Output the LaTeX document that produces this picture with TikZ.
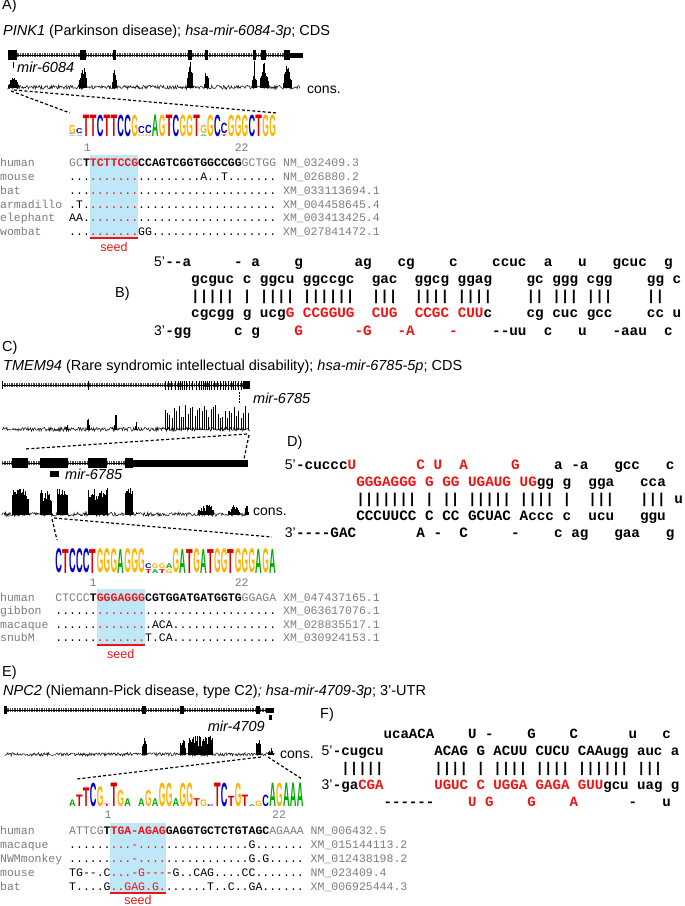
\documentclass[tikz,border=0pt]{standalone}
\usepackage{fontspec}
\setmainfont{Liberation Sans}
\setsansfont{Liberation Sans}
\setmonofont{Liberation Mono}
\usepackage{graphicx}
\definecolor{seedblue}{RGB}{190,231,248}
\definecolor{hred}{RGB}{240,20,20}
\definecolor{agray}{RGB}{125,125,125}
\definecolor{lA}{RGB}{0,170,0}
\definecolor{lC}{RGB}{0,0,215}
\definecolor{lG}{RGB}{255,178,0}
\definecolor{lT}{RGB}{220,0,0}
\newcommand\xgr[1]{\textcolor{agray}{#1}}
\newcommand\xbf[1]{\textbf{#1}}
\newcommand\xrb[1]{\textcolor{hred}{\textbf{#1}}}
\newcommand\xrn[1]{\textcolor{hred}{#1}}
\newcommand\xr[1]{\textcolor{hred}{#1}}
\tikzset{
  lab/.style={font=\fontsize{14.5}{17}\selectfont, inner sep=0, anchor=west},
  mirlab/.style={font=\fontsize{14.5}{17}\selectfont\itshape, inner sep=0},
  dup/.style={font=\fontsize{14.33}{16}\selectfont\ttfamily\bfseries, inner sep=0, anchor=base west},
  dupF/.style={font=\fontsize{14.08}{16}\selectfont\ttfamily\bfseries, inner sep=0, anchor=base west},
  primelab/.style={font=\fontsize{14}{16}\selectfont, inner sep=0, anchor=base east},
  aln/.style={font=\fontsize{11.5}{13}\selectfont\ttfamily, inner sep=0, anchor=base west},
  poslab/.style={font=\fontsize{11.5}{13}\selectfont\ttfamily, text=agray, inner sep=0},
  seedlab/.style={font=\fontsize{12.5}{14}\selectfont, text=hred, inner sep=0},
  hatchln/.style={draw=black!70, line width=3.6pt, dash pattern=on 0.5pt off 1.2pt},
  intron/.style={draw=black, line width=0.6pt},
  zoomconn/.style={draw=black, line width=1.2pt, dash pattern=on 3pt off 2.2pt},
  constrace/.style={draw=black!90, line width=0.55pt},
  spikeln/.style={draw=black, line width=0.5pt},
  seedline/.style={draw=hred, line width=1.1pt},
}
\newcommand\cnoise[4]{%
  \pgfmathsetmacro\xnext{#1+0.7}%
  \draw[constrace] (#1,#3) \foreach \xx in {#1,\xnext,...,#2} { -- (\xx,{#3+#4*(0.3-rnd)}) };%
}
\newcommand\cspikes[5]{%
  \pgfmathsetmacro\xnext{#1+#5}%
  \foreach \xx in {#1,\xnext,...,#2} {%
    \pgfmathsetmacro\hh{#4*(0.3+0.7*rnd)*(1-0.55*abs(2*(\xx-#1)/(#2-#1+0.01)-1))}%
    \draw[spikeln] (\xx,#3) -- (\xx,#3-\hh);%
  }%
}
\newcommand\cblocks[5]{%
  \pgfmathsetmacro\xnext{#1+#5}%
  \foreach \xx in {#1,\xnext,...,#2} {%
    \pgfmathsetmacro\hh{#4*(0.45+0.55*rnd)}%
    \draw[spikeln] (\xx,#3) -- (\xx,#3-\hh);%
  }%
}
\newcommand\seqlogo[5]{%
  \foreach \c/\l/\k/\h/\o [count=\i] in {#5} {%
    \pgfmathsetmacro\hh{max(\h*#4-0.6,0.4)}%
    \node[inner sep=0, anchor=south, text=\k] (#1\i) at ({#2+6.9*(\c+0.5)},{#3-\o*#4}) {\resizebox{6.6pt}{\hh pt}{\sffamily\bfseries\l}};%
  }%
}
\begin{document}
\begin{tikzpicture}[x=1pt,y=-1pt]
\useasboundingbox (0,0) rectangle (685,906);
\fill[white] (0,0) rectangle (685,906);
\pgfmathsetseed{4711}

%%%%%%%%%%%%%%%% Panel A
\node[lab] (pA) at (2,6) {A)};
\node[lab] (tA) at (3,32) {\textit{PINK1} (Parkinson disease); \textit{hsa-mir-6084-3p}; CDS};
\draw[hatchln] (8,55) -- (290,55);
\draw[intron] (8,55) -- (290,55);
\foreach \a/\b in {8/17,80/86,113/116,188/192,205/208,253/256,261/266,284/290}
  \fill (\a,50) rectangle (\b,60);
\fill (290,52.5) rectangle (303,57.5);
\fill (12.5,62) rectangle (14,67.5);
\node[mirlab, anchor=west] (mA) at (17,67) {mir-6084};
\cnoise{8}{300}{88}{4}
\cspikes{8}{18}{88}{13}{0.6}
\cspikes{79.5}{86.5}{88}{28}{0.5}
\cspikes{112.5}{116.5}{88}{22}{0.5}
\cspikes{187.5}{192.5}{88}{28}{0.5}
\cspikes{204.5}{208.5}{88}{26}{0.5}
\cspikes{252.5}{256.5}{88}{28}{0.5}
\cspikes{260}{268}{88}{28}{0.5}
\cspikes{283}{291}{88}{25}{0.5}
\node[lab, font=\fontsize{14}{16}\selectfont] (cA) at (307,90) {cons.};
\coordinate (zA1) at (11,91); \coordinate (zA2) at (14,90);
\coordinate (lgA1) at (70,113); \coordinate (lgA2) at (277,113);
\draw[zoomconn] (zA1) -- (lgA1);
\draw[zoomconn] (zA2) -- (lgA2);
\seqlogo{LA}{69}{137}{22}{0/A/lA/0.06/0, 0/C/lC/0.06/0.08, 0/G/lG/0.4/0.16,
 1/A/lA/0.06/0, 1/G/lG/0.06/0.08, 1/C/lC/0.25/0.16,
 2/T/lT/1/0, 3/T/lT/1/0, 4/C/lC/1/0, 5/T/lT/1/0, 6/T/lT/1/0, 7/C/lC/1/0, 8/C/lC/1/0, 9/G/lG/1/0,
 10/G/lG/0.1/0, 10/C/lC/0.35/0.14, 11/G/lG/0.1/0, 11/C/lC/0.4/0.14,
 12/A/lA/1/0, 13/G/lG/1/0, 14/T/lT/1/0, 15/C/lC/1/0, 16/G/lG/1/0, 17/G/lG/1/0, 18/T/lT/1/0,
 19/A/lA/0.1/0, 19/G/lG/0.4/0.14, 20/G/lG/1/0, 21/C/lC/1/0,
 22/T/lT/0.1/0, 22/C/lC/0.5/0.15,
 23/G/lG/1/0, 24/G/lG/1/0, 25/G/lG/1/0, 26/C/lC/1/0, 27/T/lT/1/0, 28/G/lG/1/0, 29/G/lG/1/0}
\node[poslab] (A1n) at (87.2,148) {1};
\node[poslab] (A22n) at (241.7,148) {22};
\fill[seedblue] (89.7,155) rectangle (138,237);
\draw[seedline] (89.7,238) -- (138,238);
\node[seedlab] (sA) at (114,247) {seed};
\node[aln] (Ah) at (0,166) {\xgr{human~~~~~GC}\xbf{T}\xrb{TCTTCCG}\xbf{CCAGTCGGTGGCCGG}\xgr{GCTGG~NM\_032409.3}};
\node[aln] (Am) at (0,180) {\xgr{mouse~~~~~}...\xrn{.......}.........A..T.......\xgr{~NM\_026880.2}};
\node[aln] (Ab) at (0,194) {\xgr{bat~~~~~~~}...\xrn{.......}....................\xgr{~XM\_033113694.1}};
\node[aln] (Aa) at (0,208) {\xgr{armadillo~}.T.\xrn{.......}....................\xgr{~XM\_004458645.4}};
\node[aln] (Ae) at (0,221) {\xgr{elephant~~}AA.\xrn{.......}....................\xgr{~XM\_003413425.4}};
\node[aln] (Aw) at (0,235) {\xgr{wombat~~~~}...\xrn{.......}GG..................\xgr{~XM\_027841472.1}};

%%%%%%%%%%%%%%%% Panel B
\node[lab] (pB) at (115,294) {B)};
\node[primelab] (Bp5) at (165.2,266.5) {5'};
\node[dup] (B1) at (165.2,266.5) {--a~~~~~-~a~~~~g~~~~~~ag~~~cg~~~~c~~~~ccuc~~a~~~u~~~gcuc~~g};
\node[dup] (B2) at (191,283.5) {gcguc~c~ggcu~ggccgc~~gac~~ggcg~ggag~~~~gc~ggg~cgg~~~~gg~c};
\node[dup] (B3) at (191,300.5) {|||||~|~||||~||||||~~|||~~||||~||||~~~~||~|||~|||~~~~||};
\node[dup] (B4) at (191,317.5) {cgcgg~g~ucg\xr{G}~\xr{CCGGUG}~~\xr{CUG}~~\xr{CCGC}~\xr{CUU}c~~~~cg~cuc~gcc~~~~cc~u};
\node[primelab] (Bp3) at (165.2,335.5) {3'};
\node[dup] (B5) at (165.2,335.5) {-gg~~~~~c~g~~~~\xr{G}~~~~~~\xr{-G}~~~\xr{-A}~~~~\xr{-}~~~~--uu~~c~~~u~~~-aau~~c};

%%%%%%%%%%%%%%%% Panel C
\node[lab] (pC) at (2,348) {C)};
\node[lab] (tC) at (3,367) {\textit{TMEM94} (Rare syndromic intellectual disability); \textit{hsa-mir-6785-5p}; CDS};
\draw[hatchln] (2,385) -- (244,385);
\draw[intron] (2,385) -- (244,385);
\fill (1.5,381) rectangle (2.8,389);
\foreach \t in {88,165,168,171,175,178,180,182,184,186,189,192,196,199,201,203,205,207,209,211,214,217,220,223,225,228,231,233,235,238,241}
  \fill (\t-0.4,380.5) rectangle (\t+0.4,389.5);
\fill (243,381) rectangle (250,389);
\draw[dash pattern=on 1.5pt off 1.5pt, line width=0.6pt] (239.3,392) -- (239.3,403);
\node[mirlab, anchor=west] (mC1) at (253,398) {mir-6785};
\cnoise{2}{250}{430}{4}
\cspikes{66}{68}{430}{7}{0.5}
\cspikes{87}{89.5}{430}{15}{0.5}
\cspikes{114}{116.5}{430}{22}{0.5}
\cspikes{135}{137}{430}{9}{0.5}
\cblocks{165}{248}{430}{25}{2.3}
\coordinate (zC1) at (247,434); \coordinate (gC1) at (25,449);
\coordinate (zC2) at (249,435); \coordinate (gC2) at (244,459);
\draw[zoomconn] (zC1) -- (gC1);
\draw[zoomconn] (zC2) -- (gC2);
\draw[hatchln] (2,463) -- (128,463);
\draw[intron] (2,463) -- (128,463);
\foreach \a/\b in {12/28,40/68,88/107,125/133}
  \fill (\a,458) rectangle (\b,468);
\fill (132,459.5) rectangle (248,466.5);
\fill (50,471) rectangle (59,477);
\node[mirlab, anchor=west] (mC2) at (65,474) {mir-6785};
\cnoise{2}{248}{515}{4}
\cblocks{12}{28}{515}{27}{0.5}
\cblocks{40}{51}{515}{25}{0.5}
\cblocks{57}{67}{515}{27}{0.5}
\cblocks{88}{107}{515}{27}{0.5}
\cblocks{125}{132}{515}{27}{0.5}
\cspikes{198}{214}{515}{14}{0.8}
\cspikes{228}{240}{515}{10}{0.8}
\cspikes{245}{248}{515}{12}{0.5}
\node[lab, font=\fontsize{14}{16}\selectfont] (cC) at (253,512) {cons.};
\coordinate (zC3) at (52,519); \coordinate (lgC1) at (57,540);
\coordinate (zC4) at (54,518); \coordinate (lgC2) at (272,537);
\draw[zoomconn] (zC3) -- (lgC1);
\draw[zoomconn] (zC4) -- (lgC2);
\seqlogo{LC}{55.2}{573.5}{24.5}{0/C/lC/1/0, 1/T/lT/1/0, 2/C/lC/1/0, 3/C/lC/1/0, 4/C/lC/1/0, 5/T/lT/1/0,
 6/G/lG/1/0, 7/G/lG/1/0, 8/G/lG/1/0, 9/A/lA/1/0, 10/G/lG/1/0, 11/G/lG/1/0, 12/G/lG/1/0,
 13/T/lT/0.18/0, 13/C/lC/0.22/0.2, 14/A/lA/0.18/0, 14/G/lG/0.22/0.2,
 15/T/lT/0.18/0, 15/G/lG/0.22/0.2, 16/G/lG/0.18/0, 16/A/lA/0.22/0.2,
 17/G/lG/1/0, 18/A/lA/1/0, 19/T/lT/1/0, 20/G/lG/1/0, 21/A/lA/1/0, 22/T/lT/1/0, 23/G/lG/1/0,
 24/G/lG/1/0, 25/T/lT/1/0, 26/G/lG/1/0, 27/G/lG/1/0, 28/G/lG/1/0, 29/A/lA/1/0, 30/G/lG/1/0, 31/A/lA/1/0}
\node[poslab] (C1n) at (93,583) {1};
\node[poslab] (C22n) at (241.7,583) {22};
\fill[seedblue] (96.6,589) rectangle (144.9,644);
\draw[seedline] (96.6,645) -- (144.9,645);
\node[seedlab] (sC) at (120.7,654) {seed};
\node[aln] (Ch) at (0,601) {\xgr{human~~~CTCCC}\xbf{T}\xrb{GGGAGGG}\xbf{CGTGGATGATGGTG}\xgr{GGAGA~XM\_047437165.1}};
\node[aln] (Cg) at (0,614.5) {\xgr{gibbon~~}......\xrn{.......}...................\xgr{~XM\_063617076.1}};
\node[aln] (Cm) at (0,628) {\xgr{macaque~}......\xrn{.......}.ACA...............\xgr{~XM\_028835517.1}};
\node[aln] (Cs) at (0,641.5) {\xgr{snubM~~~}......\xrn{.......}T.CA...............\xgr{~XM\_030924153.1}};

%%%%%%%%%%%%%%%% Panel D
\node[lab] (pD) at (287,443) {D)};
\node[primelab] (Dp5) at (295.9,469.5) {5'};
\node[dup] (D1) at (295.9,469.5) {-cuccc\xr{U}~~~~~~~\xr{C}~\xr{U}~~\xr{A}~~~~~\xr{G}~~~~a~-a~~~gcc~~~c};
\node[dup] (D2) at (356.1,486.5) {\xr{GGGAGGG}~\xr{G}~\xr{GG}~\xr{UGAUG}~\xr{UG}gg~g~~gga~~~cca};
\node[dup] (D3) at (356.1,503.5) {|||||||~|~||~|||||~||||~|~~|||~~~|||~u};
\node[dup] (D4) at (356.1,520.5) {CCCUUCC~C~CC~GCUAC~Accc~c~~ucu~~~ggu};
\node[primelab] (Dp3) at (295.9,537.5) {3'};
\node[dup] (D5) at (295.9,537.5) {----GAC~~~~~~~A~-~~C~~~~~-~~~~c~ag~~~gaa~~~g};

%%%%%%%%%%%%%%%% Panel E
\node[lab] (pE) at (2,673) {E)};
\node[lab] (tE) at (3,692) {\textit{NPC2} (Niemann-Pick disease, type C2)\textit{; hsa-mir-4709-3p}; 3'-UTR};
\draw[hatchln] (5,710) -- (267,710);
\draw[intron] (5,710) -- (267,710);
\foreach \a/\b in {4/7,142/146,180/184,256/260}
  \fill (\a,706) rectangle (\b,714);
\fill (266,707.5) rectangle (274,712.5);
\fill (269,715) rectangle (272,720);
\node[mirlab, anchor=east] (mE) at (265,726) {mir-4709};
\cnoise{5}{275}{755}{3.5}
\cspikes{142}{146.5}{755}{22}{0.5}
\cspikes{180}{185}{755}{22}{0.5}
\cblocks{188}{213}{755}{19}{0.6}
\cspikes{256}{260.5}{755}{22}{0.5}
\cspikes{268}{273}{755}{8}{0.5}
\node[lab, font=\fontsize{14}{16}\selectfont] (cE) at (280,755) {cons.};
\coordinate (zE1) at (261,757); \coordinate (lgE1) at (77,779);
\coordinate (zE2) at (268,757); \coordinate (lgE2) at (302,779);
\draw[zoomconn] (zE1) -- (lgE1);
\draw[zoomconn] (zE2) -- (lgE2);
\seqlogo{LE}{69}{807}{24}{0/A/lA/0.3/0, 1/T/lT/0.5/0, 2/T/lT/0.8/0, 3/C/lC/1/0, 4/G/lG/0.85/0,
 5/T/lT/0.12/0, 6/T/lT/1/0, 7/G/lG/0.7/0, 8/A/lA/0.35/0,
 10/A/lA/0.35/0, 11/G/lG/0.7/0, 12/A/lA/0.35/0, 13/G/lG/1/0, 14/G/lG/1/0, 15/A/lA/0.35/0,
 16/G/lG/1/0, 17/G/lG/1/0, 18/T/lT/0.35/0, 19/G/lG/0.3/0, 20/C/lC/0.1/0, 21/T/lT/1/0,
 22/C/lC/1/0, 23/T/lT/0.45/0, 24/G/lG/1/0, 25/T/lT/0.5/0, 26/A/lA/0.1/0, 27/G/lG/0.25/0,
 28/C/lC/0.5/0, 29/A/lA/1/0, 30/G/lG/1/0, 31/A/lA/1/0, 32/A/lA/1/0, 33/A/lA/1/0}
\node[poslab] (E1n) at (108,815) {1};
\node[poslab] (E22n) at (279,815) {22};
\fill[seedblue] (110.4,823) rectangle (165.6,892);
\draw[seedline] (110.4,893) -- (165.6,893);
\node[seedlab] (sE) at (138,900.5) {seed};
\node[aln] (Eh) at (0,834) {\xgr{human~~~~~ATTCG}\xbf{T}\xrb{TGA-AGAG}\xbf{GAGGTGCTCTGTAGC}\xgr{AGAAA~NM\_006432.5}};
\node[aln] (Em) at (0,848) {\xgr{macaque~~~}......\xrn{...-....}............G.......\xgr{~XM\_015144113.2}};
\node[aln] (En) at (0,862) {\xgr{NWMmonkey~}......\xrn{...-....}............G.G.....\xgr{~XM\_012438198.2}};
\node[aln] (Emo) at (0,876) {\xgr{mouse~~~~~}TG--.C\xrn{...-G---}-G..CAG....CC.......\xgr{~NM\_023409.4}};
\node[aln] (Eb) at (0,890) {\xgr{bat~~~~~~~}T....G\xrn{..GAG.G.}......T..C..GA......\xgr{~XM\_006925444.3}};

%%%%%%%%%%%%%%%% Panel F
\node[lab] (pF) at (320,715) {F)};
\node[dupF] (F1) at (383.45,738.5) {ucaACA~~~~U~-~~~~G~~~~C~~~~~~u~~~c};
\node[primelab] (Fp5) at (332.75,755.5) {5'};
\node[dupF] (F2) at (332.75,755.5) {-cugcu~~~~~~ACAG~G~ACUU~CUCU~CAAugg~auc~a};
\node[dupF] (F3) at (341.2,772.5) {|||||~~~~~~||||~|~||||~||||~||||||~|||};
\node[primelab] (Fp3) at (332.75,789.5) {3'};
\node[dupF] (F4) at (332.75,789.5) {-ga\xr{CGA}~~~~~~\xr{UGUC}~\xr{C}~\xr{UGGA}~\xr{GAGA}~\xr{GUU}gcu~uag~g};
\node[dupF] (F5) at (383.45,806.5) {------~~~~\xr{U}~\xr{G}~~~~\xr{G}~~~~\xr{A}~~~~~~-~~~u};
\end{tikzpicture}
\end{document}
